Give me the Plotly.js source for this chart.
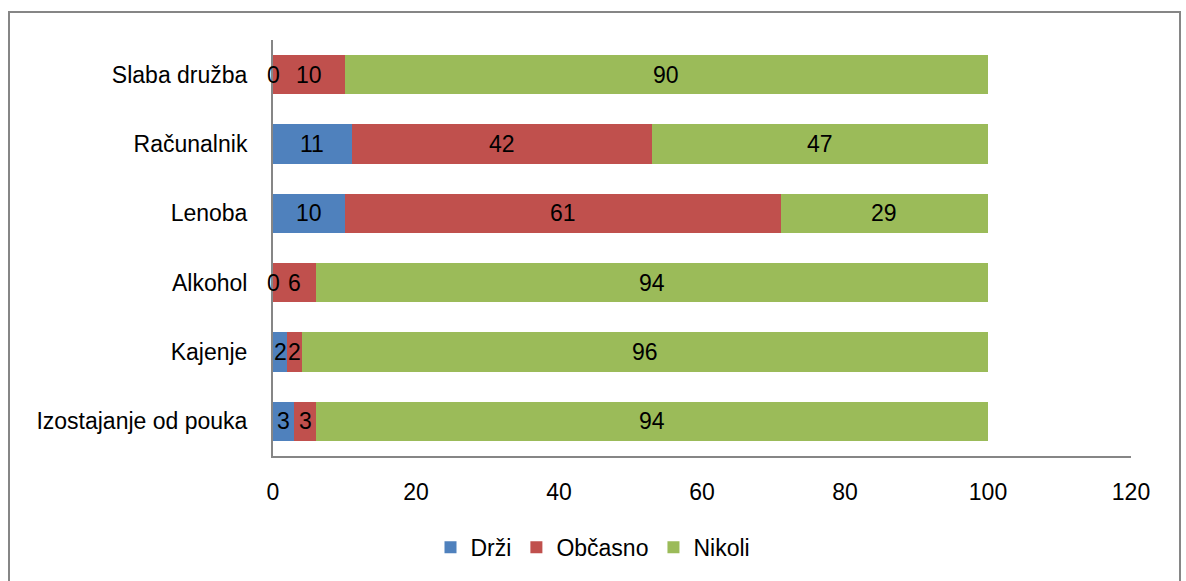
<!DOCTYPE html>
<html>
<head>
<meta charset="utf-8">
<script src="https://cdn.plot.ly/plotly-3.0.1.min.js"></script>
<style>
  html, body { margin: 0; padding: 0; background: #fff; }
  #wrap { position: relative; width: 1186px; height: 581px; }
  #chart { width: 1186px; height: 581px; }
  #frame { position: absolute; left: 8px; top: 11px; width: 1173px; height: 580px;
           border: 2px solid #868686; border-bottom: none; pointer-events: none; box-sizing: border-box; }
</style>
</head>
<body>
<div id="wrap">
  <div id="chart"></div>
  <div id="frame"></div>
</div>
<script>
const categories = ["Izostajanje od pouka", "Kajenje", "Alkohol", "Lenoba", "Računalnik", "Slaba družba"];
const drzi = [3, 2, 0, 10, 11, 0];
const obcasno = [3, 2, 6, 61, 42, 10];
const nikoli = [94, 96, 94, 29, 47, 90];
const seriesNames = ["Drži", "Občasno", "Nikoli"];
const seriesColors = ["#4F81BD", "#C0504D", "#9BBB59"];
const xTicks = [0, 20, 40, 60, 80, 100, 120];

const seriesValues = [drzi, obcasno, nikoli];
const fontFam = "Liberation Sans, Arial, sans-serif";
const fs = 23;

const traces = seriesValues.map((vals, i) => ({
  type: "bar",
  orientation: "h",
  name: seriesNames[i],
  y: categories,
  x: vals,
  marker: { color: seriesColors[i] },
  hoverinfo: "x+name"
}));

const annotations = [];
categories.forEach((c, ci) => {
  let cum = 0;
  seriesValues.forEach((vals) => {
    const v = vals[ci];
    annotations.push({
      x: cum + v / 2, y: c, xref: "x", yref: "y",
      text: String(v), showarrow: false,
      font: { family: fontFam, size: fs, color: "#000" }
    });
    cum += v;
  });
});

const layout = {
  width: 1186, height: 581,
  margin: { l: 273, r: 55, t: 40, b: 125 },
  barmode: "stack",
  bargap: 0.43,
  paper_bgcolor: "#fff",
  plot_bgcolor: "#fff",
  font: { family: fontFam, size: fs, color: "#000" },
  xaxis: {
    range: [0, 120], tickvals: xTicks, ticktext: xTicks.map(String),
    showgrid: false, zeroline: false, showline: true, linecolor: "#868686", linewidth: 2,
    ticks: "", ticklabelstandoff: 14, fixedrange: true
  },
  yaxis: {
    categoryorder: "array", categoryarray: categories,
    showgrid: false, zeroline: false, showline: true, linecolor: "#868686", linewidth: 2,
    ticks: "", ticklabelstandoff: 19, fixedrange: true
  },
  showlegend: true,
  legend: {
    orientation: "h", xref: "container", yref: "container",
    x: 0.5, xanchor: "center", y: 0.058, yanchor: "middle",
    font: { family: fontFam, size: fs }, traceorder: "normal",
    itemwidth: 30
  },
  annotations: annotations
};

Plotly.newPlot("chart", traces, layout, { displayModeBar: false, staticPlot: true });
</script>
</body>
</html>
